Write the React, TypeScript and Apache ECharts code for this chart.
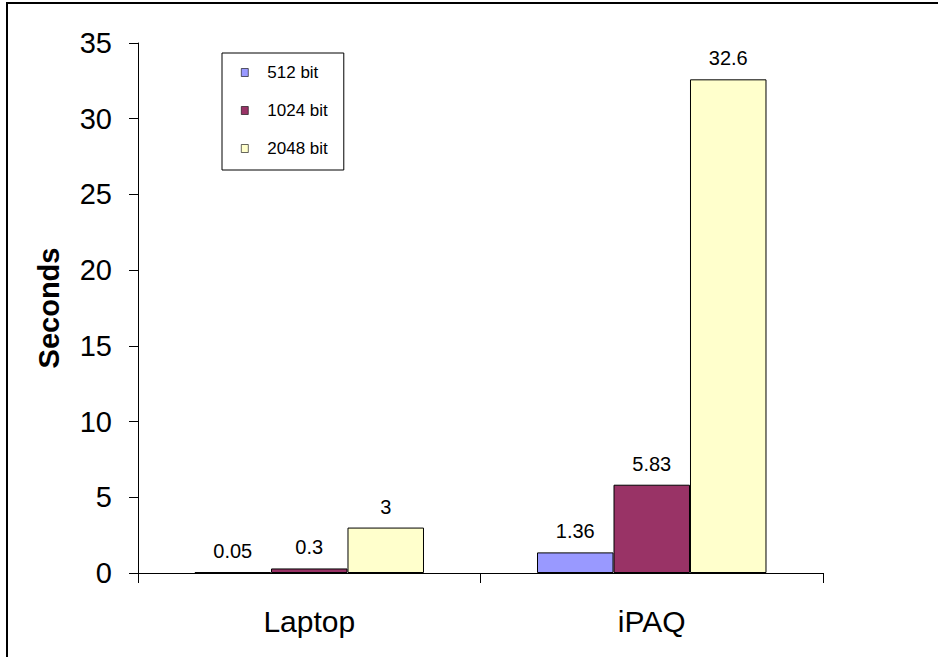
import React, { useEffect, useRef } from "react";
import * as echarts from "echarts";

const categories = ["Laptop", "iPAQ"];
const seriesNames = ["512 bit", "1024 bit", "2048 bit"];
const values512 = [0.05, 1.36];
const values1024 = [0.3, 5.83];
const values2048 = [3, 32.6];
const colors = ["#9999FF", "#993366", "#FFFFCC"];
const yTicks = { min: 0, max: 35, interval: 5 };

const FONT = "'Liberation Sans', Arial, sans-serif";

export default function App() {
  const ref = useRef<HTMLDivElement>(null);
  useEffect(() => {
    if (!ref.current) return;
    const chart = echarts.init(ref.current, null, { renderer: "svg" });
    const allValues = [values512, values1024, values2048];
    chart.setOption({
      animation: false,
      backgroundColor: "#fff",
      textStyle: { fontFamily: FONT, color: "#000" },
      graphic: [
        {
          type: "rect",
          shape: { x: 7, y: 3, width: 940, height: 670 },
          style: { fill: "none", stroke: "#000", lineWidth: 2 },
          silent: true,
        },
      ],
      legend: {
        orient: "vertical",
        left: 222,
        top: 53,
        data: seriesNames,
        icon: "rect",
        itemWidth: 7,
        itemHeight: 8,
        itemGap: 21,
        padding: [11, 16, 13, 19],
        borderColor: "#000",
        borderWidth: 1,
        backgroundColor: "#fff",
        itemStyle: { borderColor: "#000", borderWidth: 0.6 },
        textStyle: {
          fontFamily: FONT,
          fontSize: 17,
          color: "#000",
          padding: [0, 0, 0, 14],
          lineHeight: 16,
        },
      },
      grid: { left: 138, top: 43, right: 115, bottom: 84 },
      xAxis: {
        type: "category",
        data: categories,
        axisLine: { lineStyle: { color: "#000", width: 1 } },
        axisTick: { show: true, length: 10, lineStyle: { color: "#000" } },
        axisLabel: { fontFamily: FONT, fontSize: 30, color: "#000", margin: 33 },
        splitLine: { show: false },
      },
      yAxis: {
        type: "value",
        min: yTicks.min,
        max: yTicks.max,
        interval: yTicks.interval,
        name: "Seconds",
        nameLocation: "middle",
        nameGap: 75,
        nameTextStyle: { fontFamily: FONT, fontSize: 29, fontWeight: "bold", color: "#000" },
        axisLine: { show: true, lineStyle: { color: "#000", width: 1 } },
        axisTick: { show: true, length: 9, lineStyle: { color: "#000" } },
        axisLabel: { fontFamily: FONT, fontSize: 29, color: "#000", margin: 26 },
        splitLine: { show: false },
      },
      series: seriesNames.map((name, i) => ({
        name,
        type: "bar",
        data: allValues[i],
        barGap: "0%",
        barCategoryGap: "33%",
        itemStyle: { color: colors[i], borderColor: "#000", borderWidth: 1 },
        label: {
          show: true,
          position: "top",
          distance: 11,
          fontFamily: FONT,
          fontSize: 20,
          color: "#000",
        },
      })),
    });
    return () => chart.dispose();
  }, []);
  return (
    <div
      ref={ref}
      style={{ position: "fixed", left: 0, top: 0, width: 938, height: 657 }}
    />
  );
}
